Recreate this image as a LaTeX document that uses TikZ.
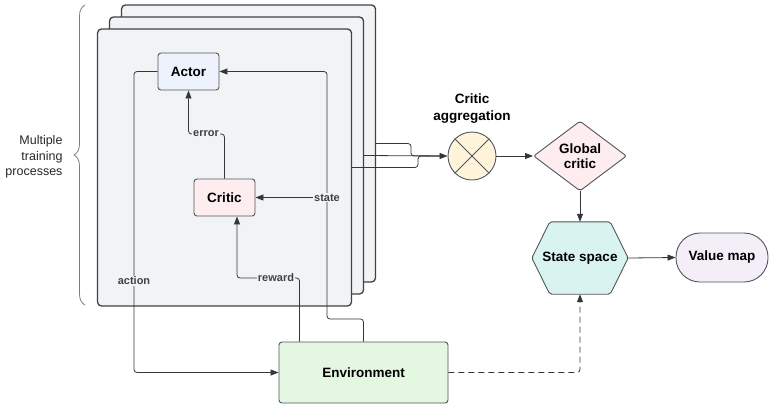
\documentclass[tikz,border=0pt]{standalone}
\usepackage{fontspec}
\setmainfont{Liberation Sans}
\usetikzlibrary{arrows.meta,shapes.geometric,decorations.pathreplacing,backgrounds}
\definecolor{panelfill}{HTML}{F2F3F5}
\definecolor{panelborder}{HTML}{3D4249}
\definecolor{boxborder}{HTML}{50555E}
\definecolor{actorfill}{HTML}{EEF2FC}
\definecolor{criticfill}{HTML}{FDEDEE}
\definecolor{envfill}{HTML}{E3F7E1}
\definecolor{aggfill}{HTML}{FFF3D9}
\definecolor{ssfill}{HTML}{D9F4F0}
\definecolor{vmfill}{HTML}{F4EEF9}
\definecolor{linecol}{HTML}{33363B}
\definecolor{lblcol}{HTML}{3E4146}
\definecolor{bracecol}{HTML}{7A7D82}
\tikzset{
  panel/.style={draw=panelborder, line width=1.3pt, fill=panelfill, rounded corners=4pt,
    minimum width=254, minimum height=277, inner sep=0},
  box/.style={draw=boxborder, line width=0.9pt, rounded corners=3pt, inner sep=0,
    font=\fontsize{13.5}{15.5}\selectfont\bfseries, align=center},
  conn/.style={draw=linecol, line width=0.8pt, rounded corners=3pt},
  arr/.style={conn, -{Triangle[length=8pt,width=6pt]}},
  lbl/.style={fill=panelfill, inner sep=1pt, text=lblcol, font=\fontsize{11}{12}\selectfont\bfseries},
}
\begin{document}
\begin{tikzpicture}[x=1pt,y=-1pt]
\useasboundingbox (0,0) rectangle (770,405);
% panels
\node[panel] (p3) at (248.5,143.5) {};
\node[panel] (p2) at (236.5,155.5) {};
\node[panel] (p1) at (224.5,167.5) {};
% brace and text
\draw[bracecol, line width=0.8pt, decorate, decoration={brace, amplitude=11pt}] (85,305) -- (85,5);
\node[anchor=east, align=right, font=\fontsize{12.5}{15.5}\selectfont, text=black!85] (mtp) at (66,157) {Multiple\\training\\processes};
% inner nodes
\node[box, fill=actorfill, minimum width=61, minimum height=37] (actor) at (188.5,71.5) {Actor};
\node[box, fill=criticfill, minimum width=61, minimum height=37] (critic) at (224.5,197.5) {Critic};
\node[box, fill=envfill, minimum width=169, minimum height=61] (env) at (363.5,372.5) {Environment};
% aggregation
\node[circle, draw=boxborder, line width=0.9pt, fill=aggfill, minimum size=48, inner sep=0] (agg) at (472,156) {};
\draw[boxborder, line width=0.8pt] (agg.north west) -- (agg.south east) (agg.north east) -- (agg.south west);
\node[font=\fontsize{13.5}{17}\selectfont\bfseries, align=center] (aggl) at (472,109) {Critic\\aggregation};
\node[diamond, draw=boxborder, line width=0.9pt, fill=criticfill, aspect=1.33, inner sep=0,
  minimum width=93, minimum height=70, rounded corners=2pt, align=center,
  font=\fontsize{13.5}{15.5}\selectfont\bfseries] (gc) at (580,156) {Global\\critic};
% state space hexagon
\node[font=\fontsize{13.5}{15}\selectfont\bfseries, minimum width=96, minimum height=72, inner sep=0] (ss) at (580,258) {State space};
\begin{scope}[on background layer]
\draw[draw=boxborder, line width=0.9pt, fill=ssfill, rounded corners=2pt]
  (ss.west) -- ([xshift=18pt]ss.north west) -- ([xshift=-18pt]ss.north east) -- (ss.east)
  -- ([xshift=-18pt]ss.south east) -- ([xshift=18pt]ss.south west) -- cycle;
\end{scope}
\node[box, fill=vmfill, minimum width=92, minimum height=49, rounded corners=24pt] (vm) at (722,257.5) {Value map};
% connectors inside
\draw[arr] (actor.west) -- (134,71.5) -- (134,372.5) -- (env.west);
\draw[arr] (env.north) -- (363.5,319) -- (327,319) -- (327,71.5) -- (actor.east);
\draw[arr] (327,197.5) -- (critic.east);
\draw[arr] ([xshift=-64pt]env.north) -- (299.5,278) -- (237,278) -- (critic.south -| 237,0);
\draw[arr] (critic.north) -- (224.5,134) -- (188.5,134) -- (actor.south);
% labels
\node[lbl] (lact) at (134,281) {action};
\node[lbl] (lstate) at (327,197.5) {state};
\node[lbl] (lrew) at (276,278) {reward};
\node[lbl] (lerr) at (206,134) {error};
% to aggregation
\draw[conn] (p3.east) -- (411,143.5) -- (411,156) -- (440,156);
\draw[conn] (p1.east) -- (418,167.5) -- (418,156) -- (440,156);
\draw[arr] (p2.east) -- (agg.west);
% right side
\draw[arr] (agg.east) -- (gc.west);
\draw[arr] (gc.south) -- (ss.north);
\draw[arr] (ss.east) -- (vm.west);
\draw[arr, dash pattern=on 6pt off 4pt] (env.east) -- (580,372.5) -- (ss.south);
\end{tikzpicture}
\end{document}
